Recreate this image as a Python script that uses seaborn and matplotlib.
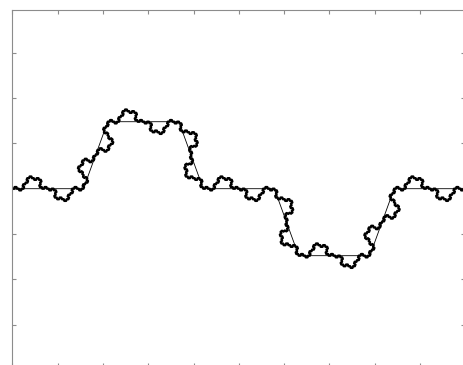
import numpy as np
import pandas as pd
import matplotlib
matplotlib.use("Agg")
import matplotlib.pyplot as plt
import seaborn as sns

# generator of the curve: direction of each of the 9 equal pieces (degrees)
piece_angles = [0, 70, 0, -70, 0, -70, 0, 70, 0]
start_pt = (0.0, 0.0)
end_pt = (10.0, 0.0)
thick_depth = 3
thin_depth = 1
x_ticks = list(range(0, 11))
y_ticks = list(range(-3, 4))


def generator():
    steps = np.exp(1j * np.deg2rad(piece_angles))
    pts = np.concatenate([[0], np.cumsum(steps)])
    return pts / pts[-1]


def curve(depth):
    g = generator()
    pts = np.array([complex(*start_pt), complex(*end_pt)])
    for _ in range(depth):
        a, b = pts[:-1], pts[1:]
        new = (a[:, None] + (b - a)[:, None] * g[None, :-1]).ravel()
        pts = np.append(new, pts[-1])
    return pd.DataFrame({"x": pts.real, "y": pts.imag})


sns.set_style("white")
W, H = 463, 365
fig = plt.figure(figsize=(W / 100, H / 100), dpi=100)
# axes box runs slightly past the right and bottom edges of the picture
ax = fig.add_axes([12.3 / W, (H - 367.1) / H, 453 / W, 356.8 / H])

sns.lineplot(data=curve(thin_depth), x="x", y="y", sort=False, estimator=None,
             color="black", lw=0.6, ax=ax)
sns.lineplot(data=curve(thick_depth), x="x", y="y", sort=False, estimator=None,
             color="black", lw=1.7, ax=ax)

ax.set_xlim(0, 10)
ax.set_ylim(-3.93, 3.93)
ax.set_xticks(x_ticks)
ax.set_yticks(y_ticks)
ax.set_xlabel("")
ax.set_ylabel("")
ax.tick_params(direction="in", length=3, width=0.8, color="#8c8c8c",
               top=True, right=True, bottom=True, left=True,
               labelbottom=False, labelleft=False)
for s in ax.spines.values():
    s.set_color("#8c8c8c")
    s.set_linewidth(0.8)

fig.savefig("out.png", dpi=100)
